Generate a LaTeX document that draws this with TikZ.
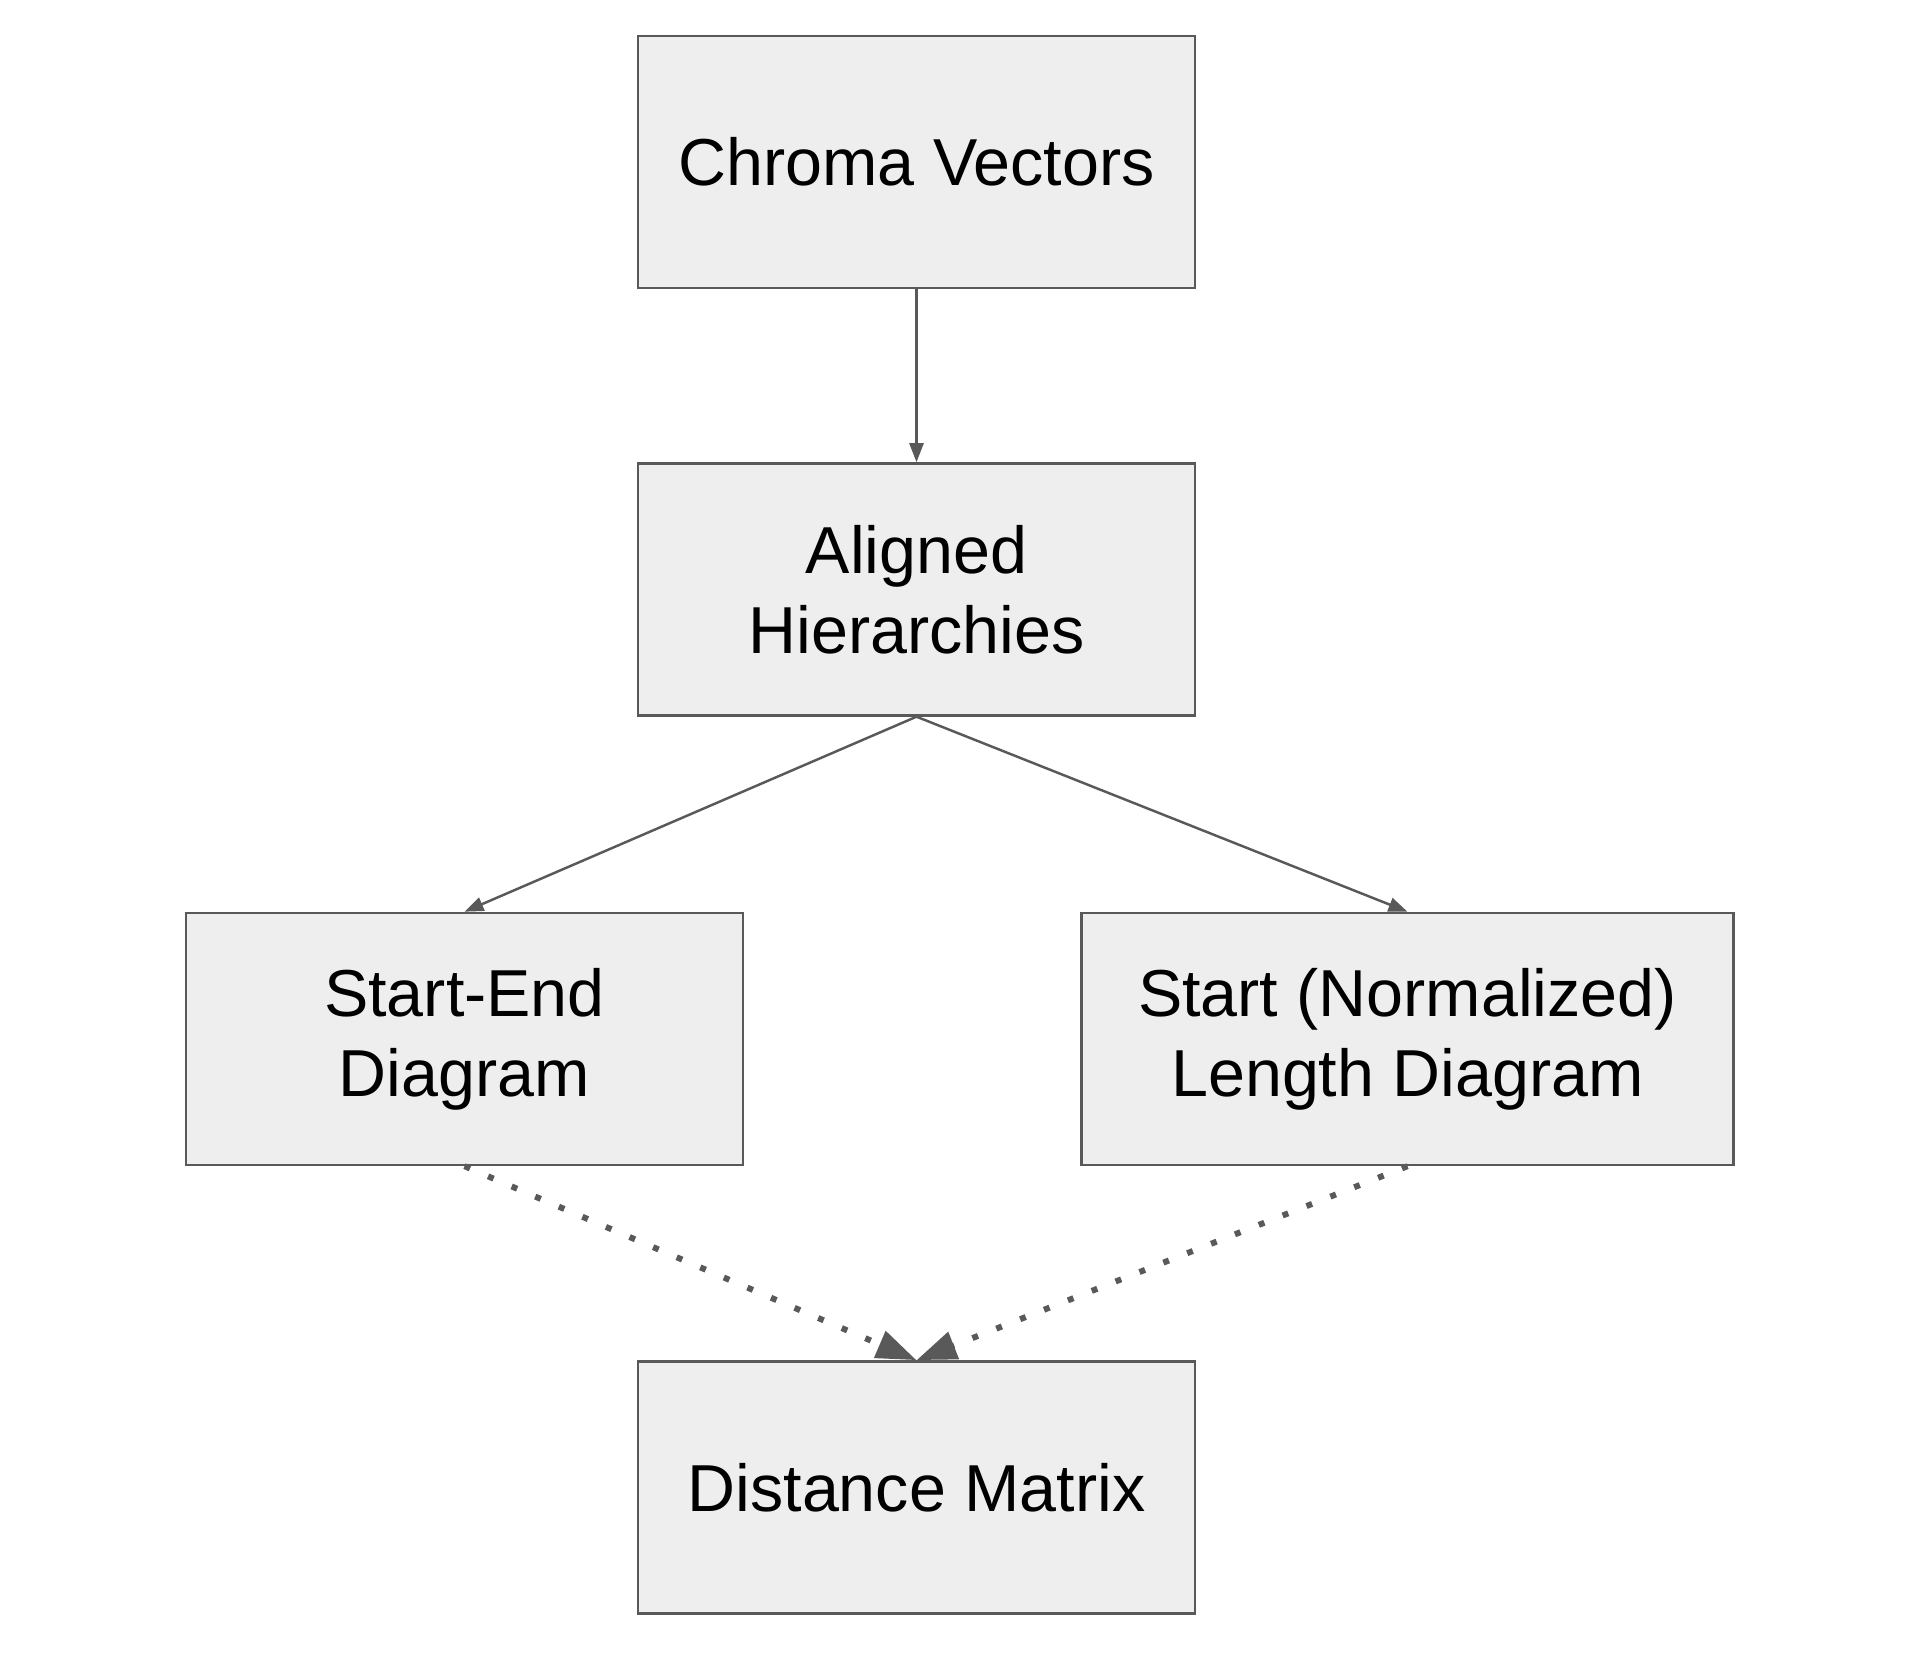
\documentclass[tikz,border=0pt]{standalone}
\usepackage{fontspec}
\setmainfont{Liberation Sans}
\usetikzlibrary{arrows.meta,positioning}
\definecolor{boxfill}{HTML}{EEEEEE}
\definecolor{boxline}{HTML}{595959}

\begin{document}
\begin{tikzpicture}[
    box/.style={draw=boxline, fill=boxfill, line width=0.7pt,
                minimum width=5.57cm, minimum height=2.52cm,
                font=\fontsize{18.9}{22.8}\selectfont, align=center, inner sep=0pt},
    arr/.style={-{Triangle[length=0.19cm,width=0.14cm]}, boxline, line width=0.7pt},
    dotarr/.style={-{Triangle[length=0.4cm,width=0.28cm]}, boxline, line width=1.7pt,
                   dash pattern=on 1.7pt off 5.6pt},
  ]
  \useasboundingbox (0,0) rectangle (19.06,-16.74);

  \node[box] (chroma) at (9.165,-1.62) {Chroma Vectors};
  \node[box, below=1.73cm of chroma] (aligned) {Aligned\\Hierarchies};
  \node[box, below=1.95cm of aligned, xshift=-4.52cm] (startend) {Start-End\\Diagram};
  \node[box, below=1.95cm of aligned, xshift=4.91cm, minimum width=6.52cm] (startlen) {Start (Normalized)\\Length Diagram};
  \node[box, below=1.94cm of startend, xshift=4.52cm] (dist) {Distance Matrix};

  % Arrows
  \draw[arr] (chroma) -- (aligned);
  \draw[arr] (aligned.south) -- (startend.north);
  \draw[arr] (aligned.south) -- (startlen.north);

  % Dotted arrows
  \draw[dotarr] (startend.south) -- (dist.north);
  \draw[dotarr] (startlen.south) -- (dist.north);
\end{tikzpicture}
\end{document}
